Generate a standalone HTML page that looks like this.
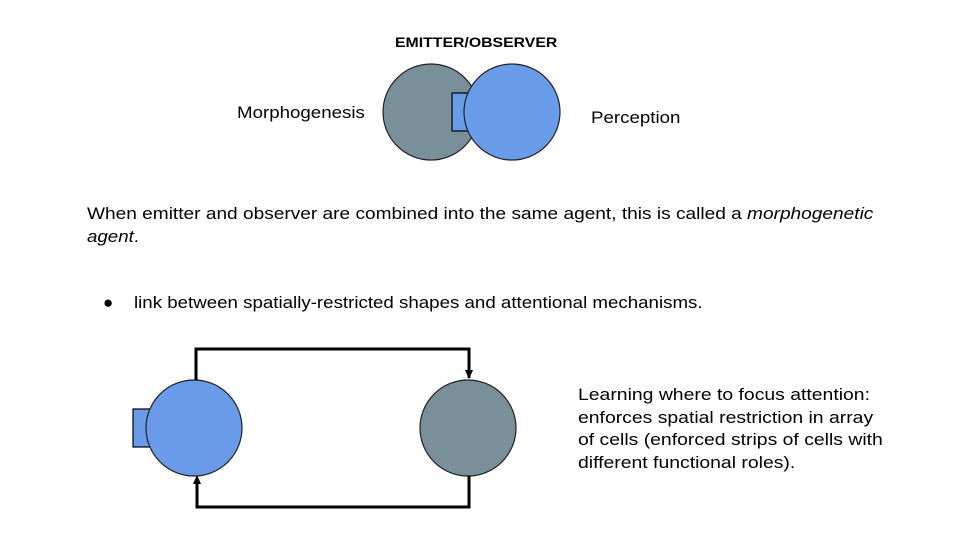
<!DOCTYPE html>
<html><head><style>
body{margin:0;width:960px;height:540px;background:#fff;overflow:hidden;font-family:"Liberation Sans",sans-serif;}
.t{position:absolute;color:#000;white-space:nowrap;transform-origin:0 0;}
</style></head><body>
<svg width="960" height="540" style="position:absolute;left:0;top:0">
<circle cx="431" cy="112" r="48" fill="#798f99" stroke="#222" stroke-width="1.2"/>
<rect x="452" y="93" width="20" height="38" fill="#6a9be8" stroke="#000" stroke-width="1.2"/>
<circle cx="512" cy="112" r="48" fill="#6a9be8" stroke="#222" stroke-width="1.2"/>
<rect x="133" y="409" width="20" height="38" fill="#6a9be8" stroke="#000" stroke-width="1.2"/>
<circle cx="194" cy="428" r="48" fill="#6a9be8" stroke="#222" stroke-width="1.2"/>
<circle cx="468" cy="428" r="48" fill="#798f99" stroke="#222" stroke-width="1.2"/>
<polyline points="196,380 196,349 469,349 469,378" fill="none" stroke="#000" stroke-width="3"/>
<path d="M465,370 L473,370 L469,379z" fill="#000"/>
<polyline points="469,476 469,507 197,507 197,484" fill="none" stroke="#000" stroke-width="3"/>
<path d="M193,484 L201,484 L197,475z" fill="#000"/>
</svg>
<div class="t" style="left:395px;top:34px;font-size:14px;font-weight:bold;transform:scaleX(1.13)">EMITTER/OBSERVER</div>
<div class="t" style="left:237px;top:103px;font-size:17px;transform:scaleX(1.1)">Morphogenesis</div>
<div class="t" style="left:591px;top:108px;font-size:17px;transform:scaleX(1.1)">Perception</div>
<div class="t" style="left:87px;top:204px;font-size:17px;transform:scaleX(1.123)">When emitter and observer are combined into the same agent, this is called a <i>morphogenetic</i></div>
<div class="t" style="left:87px;top:227px;font-size:17px;transform:scaleX(1.1)"><i>agent</i>.</div>
<div class="t" style="left:103px;top:293px;font-size:17px;">●</div>
<div class="t" style="left:134px;top:293px;font-size:17px;transform:scaleX(1.1)">link between spatially-restricted shapes and attentional mechanisms.</div>
<div class="t" style="left:578px;top:384px;font-size:17px;line-height:22.5px;transform:scaleX(1.14)">Learning where to focus attention:<br>enforces spatial restriction in array<br>of cells (enforced strips of cells with<br>different functional roles).</div>
</body></html>
